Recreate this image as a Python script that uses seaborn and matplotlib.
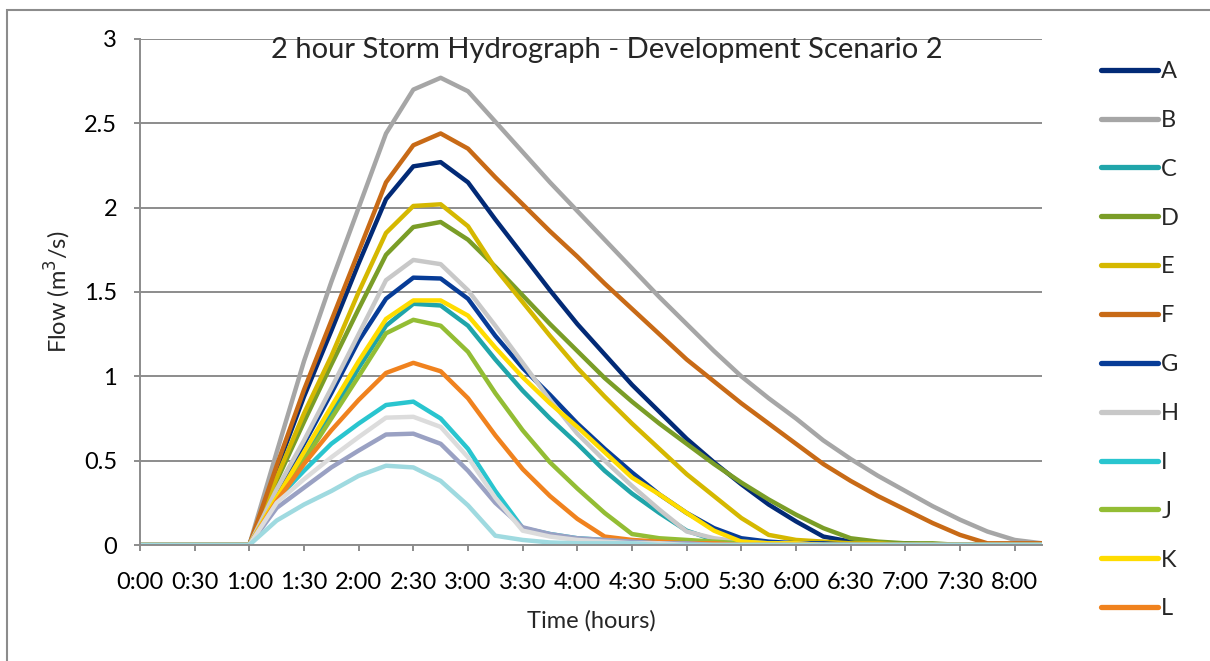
import numpy as np
import pandas as pd
import matplotlib
matplotlib.use('Agg')
import matplotlib.pyplot as plt
from matplotlib.lines import Line2D
from matplotlib.patches import Rectangle
import seaborn as sns

# time steps every 15 minutes, 0:00 to 8:15
minutes = list(range(0, 8 * 60 + 30, 15))
tick_labels = ['0:00', '0:30', '1:00', '1:30', '2:00', '2:30', '3:00', '3:30', '4:00',
               '4:30', '5:00', '5:30', '6:00', '6:30', '7:00', '7:30', '8:00']

z5 = [0, 0, 0, 0, 0]
A = z5 + [0.45, 0.88, 1.27, 1.67, 2.05, 2.245, 2.27, 2.15, 1.93, 1.72, 1.51, 1.31, 1.13, 0.95, 0.79, 0.63,
          0.49, 0.36, 0.24, 0.14, 0.05, 0.02, 0.01, 0.01, 0, 0, 0, 0, 0]
B = z5 + [0.55, 1.09, 1.56, 2.00, 2.44, 2.70, 2.77, 2.69, 2.51, 2.33, 2.15, 1.98, 1.81, 1.64, 1.47, 1.31,
          1.15, 1.00, 0.87, 0.75, 0.62, 0.51, 0.41, 0.32, 0.23, 0.15, 0.08, 0.03, 0.01]
C = z5 + [0.27, 0.52, 0.78, 1.05, 1.30, 1.43, 1.42, 1.30, 1.10, 0.915, 0.75, 0.60, 0.44, 0.305, 0.19, 0.085,
          0.03, 0.02, 0.01, 0.01, 0, 0, 0, 0, 0, 0, 0, 0, 0]
D = z5 + [0.38, 0.73, 1.07, 1.40, 1.72, 1.885, 1.915, 1.81, 1.65, 1.48, 1.31, 1.15, 0.99, 0.85, 0.72, 0.60,
          0.48, 0.37, 0.27, 0.18, 0.10, 0.04, 0.02, 0.01, 0.01, 0, 0, 0, 0]
E = z5 + [0.40, 0.78, 1.12, 1.50, 1.85, 2.01, 2.02, 1.89, 1.64, 1.44, 1.24, 1.05, 0.88, 0.72, 0.57, 0.42,
          0.29, 0.16, 0.06, 0.03, 0.02, 0.01, 0.01, 0, 0, 0, 0, 0, 0]
F = z5 + [0.47, 0.92, 1.33, 1.74, 2.15, 2.37, 2.44, 2.35, 2.18, 2.02, 1.86, 1.71, 1.55, 1.40, 1.25, 1.10,
          0.97, 0.84, 0.72, 0.60, 0.48, 0.38, 0.29, 0.21, 0.13, 0.06, 0.01, 0.01, 0.01]
G = z5 + [0.30, 0.60, 0.90, 1.21, 1.46, 1.585, 1.58, 1.46, 1.24, 1.05, 0.89, 0.72, 0.57, 0.43, 0.30, 0.19,
          0.10, 0.04, 0.02, 0.01, 0.01, 0, 0, 0, 0, 0, 0, 0, 0]
H = z5 + [0.33, 0.62, 0.93, 1.25, 1.57, 1.69, 1.665, 1.51, 1.30, 1.08, 0.86, 0.66, 0.50, 0.35, 0.21, 0.08,
          0.04, 0.02, 0.01, 0.01, 0, 0, 0, 0, 0, 0, 0, 0, 0]
I = z5 + [0.27, 0.44, 0.60, 0.72, 0.83, 0.85, 0.75, 0.57, 0.32, 0.10, 0.065, 0.04, 0.03, 0.02, 0.01, 0.01,
          0, 0, 0, 0, 0, 0, 0, 0, 0, 0, 0, 0, 0]
J = z5 + [0.25, 0.50, 0.75, 1.00, 1.255, 1.335, 1.30, 1.145, 0.90, 0.68, 0.49, 0.335, 0.19, 0.065, 0.04, 0.03,
          0.02, 0.01, 0.01, 0, 0, 0, 0, 0, 0, 0, 0, 0, 0]
K = z5 + [0.28, 0.55, 0.82, 1.09, 1.34, 1.45, 1.45, 1.36, 1.17, 0.995, 0.84, 0.70, 0.55, 0.40, 0.30, 0.19,
          0.085, 0.02, 0.01, 0.01, 0, 0, 0, 0, 0, 0, 0, 0, 0]
L = z5 + [0.26, 0.48, 0.68, 0.86, 1.02, 1.08, 1.03, 0.87, 0.65, 0.45, 0.29, 0.155, 0.05, 0.03, 0.02, 0.01,
          0.01, 0, 0, 0, 0, 0, 0, 0, 0, 0, 0, 0, 0]
M = z5 + [0.22, 0.34, 0.46, 0.56, 0.655, 0.66, 0.60, 0.44, 0.25, 0.105, 0.065, 0.04, 0.03, 0.02, 0.01, 0.01,
          0, 0, 0, 0, 0, 0, 0, 0, 0, 0, 0, 0, 0]
N = z5 + [0.25, 0.39, 0.52, 0.64, 0.755, 0.76, 0.70, 0.52, 0.28, 0.085, 0.05, 0.03, 0.02, 0.01, 0.01, 0,
          0, 0, 0, 0, 0, 0, 0, 0, 0, 0, 0, 0, 0]
O = z5 + [0.145, 0.24, 0.32, 0.41, 0.47, 0.46, 0.38, 0.235, 0.055, 0.03, 0.015, 0.01, 0.01, 0.01, 0, 0,
          0, 0, 0, 0, 0, 0, 0, 0, 0, 0, 0, 0, 0]

series = {'A': A, 'B': B, 'C': C, 'D': D, 'E': E, 'F': F, 'G': G, 'H': H,
          'I': I, 'J': J, 'K': K, 'L': L, 'M': M, 'N': N, 'O': O}
colors = {'A': '#022A76', 'B': '#A6A6A6', 'C': '#20A5AA', 'D': '#7A9D27', 'E': '#D5B800',
          'F': '#C86A16', 'G': '#073C97', 'H': '#C8C8C8', 'I': '#29C5CF', 'J': '#93BD34',
          'K': '#FFDC00', 'L': '#F0821E', 'M': '#9AA1C3', 'N': '#DCDCDC', 'O': '#9FDAE0'}
legend_names = list(series)[:12]

df = pd.DataFrame([(name, t, v) for name, vals in series.items() for t, v in zip(minutes, vals)],
                  columns=['Series', 'Minutes', 'Flow'])

sns.set_style('white')
plt.rcParams['font.family'] = ['Lato', 'DejaVu Sans']

fig = plt.figure(figsize=(12.1, 6.61), dpi=100)
ax = fig.add_axes([140 / 1210, 1 - 545 / 661, (1042 - 140) / 1210, (545 - 39) / 661])

# outer chart border
fig.patches.append(Rectangle((7 / 1210, -0.05), 1.1, 1 - 10 / 661 + 0.05, transform=fig.transFigure,
                             fill=False, edgecolor='#8C8C8C', lw=1.5))

sns.lineplot(data=df, x='Minutes', y='Flow', hue='Series', palette=colors, hue_order=list(series),
             linewidth=3.2, legend=False, ax=ax, solid_capstyle='round', solid_joinstyle='round')

ax.set_xlim(0, minutes[-1])
ax.set_ylim(0, 3)
ax.set_xticks(list(range(0, 8 * 60 + 1, 30)))
ax.set_xticklabels(tick_labels)
ax.set_yticks([0, 0.5, 1, 1.5, 2, 2.5, 3])
ax.set_yticklabels(['0', '0.5', '1', '1.5', '2', '2.5', '3'])
ax.grid(axis='y', color='#8C8C8C', lw=1.4)
ax.set_axisbelow(True)
for s in ['top', 'right']:
    ax.spines[s].set_visible(False)
for s in ['left', 'bottom']:
    ax.spines[s].set_color('#8C8C8C')
    ax.spines[s].set_linewidth(1.4)
ax.tick_params(axis='both', which='major', direction='out', length=4.5, width=1.4,
               color='#8C8C8C', labelsize=17, labelcolor='black', bottom=True, left=True)
ax.tick_params(axis='x', pad=15)
ax.tick_params(axis='y', pad=12)

ax.set_xlabel('Time (hours)', fontsize=17, labelpad=12)
ax.set_ylabel('Flow (m$^3$/s)', fontsize=17, labelpad=8)

fig.text(607 / 1210, 1 - 50 / 661, '2 hour Storm Hydrograph - Development Scenario 2',
         ha='center', va='center', fontsize=21)

handles = [Line2D([0], [0], color=colors[n], lw=3.8, solid_capstyle='round') for n in legend_names]
fig.legend(handles, legend_names, loc='upper left', bbox_to_anchor=(1101 / 1210, 1 - 61 / 661),
           frameon=False, fontsize=17, handlelength=2.4, handletextpad=0.15, labelspacing=1.18,
           borderaxespad=0, borderpad=0)

fig.savefig('out.png', dpi=100)
